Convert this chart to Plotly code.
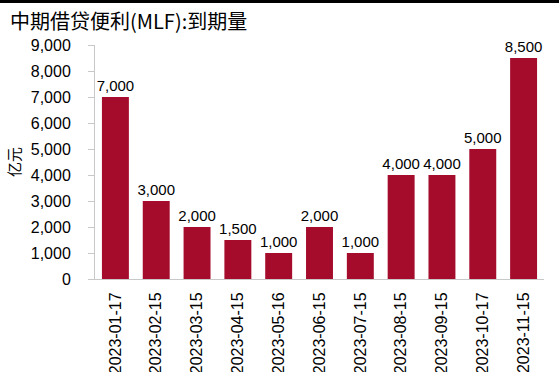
import plotly.graph_objects as go

dates = ["2023-01-17", "2023-02-15", "2023-03-15", "2023-04-15", "2023-05-16", "2023-06-15",
         "2023-07-15", "2023-08-15", "2023-09-15", "2023-10-17", "2023-11-15"]
values = [7000, 3000, 2000, 1500, 1000, 2000, 1000, 4000, 4000, 5000, 8500]
title_text = "中期借贷便利(MLF):到期量"
y_title = "亿元"
bar_color = "#A50B2B"

W, H = 559, 372
L, R, T, B = 95, 15, 45, 93
PH = H - B  # paper height (top margin 0)

fig = go.Figure(go.Bar(
    x=dates, y=values, marker_color=bar_color, marker_line_width=0,
    text=[f"{v:,}" for v in values], textposition="outside",
    constraintext="none",
    textfont=dict(family="Liberation Sans, Arial", size=15, color="#000"),
    cliponaxis=False,
))

fig.update_layout(
    width=W, height=H,
    margin=dict(l=0, r=0, t=0, b=B, pad=0, autoexpand=False),
    paper_bgcolor="white", plot_bgcolor="white",
    bargap=0.34,
    showlegend=False,
    font=dict(family="Liberation Sans, Arial", size=16, color="#000"),
    shapes=[dict(type="rect", xref="paper", yref="paper", layer="above",
                 x0=0, x1=1, y0=(PH - 3) / PH, y1=1,
                 fillcolor="#000", line=dict(width=0))],
    annotations=[
        dict(text=" ", xref="paper", yref="paper", x=0, y=1,
             xanchor="left", yanchor="top", showarrow=False,
             width=W, height=3, bgcolor="#000", borderpad=0, borderwidth=0,
             font=dict(size=1)),
        dict(text=title_text, xref="paper", yref="paper",
             x=8 / W, y=(PH - 20) / PH,
             xanchor="left", yanchor="middle", showarrow=False,
             font=dict(family="Noto Sans CJK SC", size=20, color="#000")),
    ],
)

fig.update_yaxes(range=[0, 9000], dtick=1000, tickformat=",", showgrid=False,
                 domain=[0, (PH - T) / PH],
                 showline=True, linecolor="#C8C8C8", linewidth=1,
                 ticks="outside", ticklen=6, tickcolor="#C8C8C8",
                 ticklabelstandoff=14, automargin=False,
                 zeroline=False,
                 title=dict(text=y_title, font=dict(family="Noto Sans CJK SC", size=15), standoff=6))
fig.update_xaxes(type="category", showline=True, linecolor="#C8C8C8", linewidth=1, ticks="",
                 domain=[L / W, (W - R) / W],
                 tickangle=-90, tickfont=dict(size=16), showgrid=False,
                 ticklabelstandoff=6, automargin=False)

fig.write_html("out.html", config={"displayModeBar": False},
               post_script="document.body.style.margin='0';document.body.style.padding='0';")
